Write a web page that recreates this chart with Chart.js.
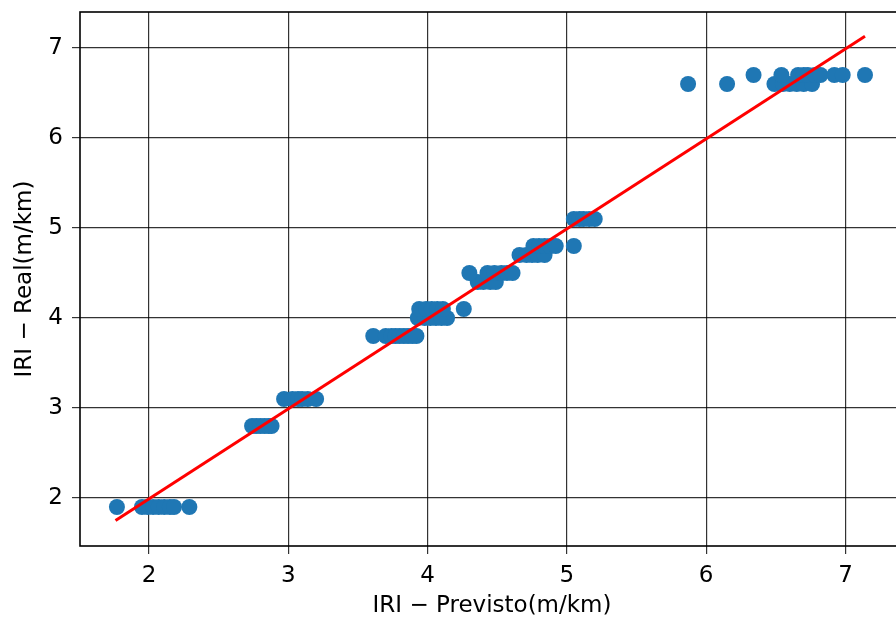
<!DOCTYPE html>
<html>
<head>
<meta charset="utf-8">
<script src="https://cdn.jsdelivr.net/npm/chart.js@4.4.1/dist/chart.umd.min.js"></script>
<style>
  html, body { margin: 0; padding: 0; background: #fff; overflow: hidden; }
  #wrap { width: 896px; height: 619px; overflow: hidden; }
  #grafico { display: block; }
</style>
</head>
<body>
<div id="wrap"><canvas id="grafico" width="912" height="619"></canvas></div>
<script>
// valores, agrupados por nivel de IRI real
const real19 = [1.77, 1.95, 1.99, 2.03, 2.07, 2.11, 2.15, 2.18, 2.29];
const real28 = [2.74, 2.77, 2.80, 2.83, 2.86, 2.88];
const real31 = [2.97, 3.03, 3.07, 3.10, 3.14, 3.20];
const real38 = [3.61, 3.70, 3.74, 3.77, 3.80, 3.83, 3.86, 3.89, 3.92];
const real40 = [3.93, 3.98, 4.02, 4.06, 4.10, 4.14];
const real41 = [3.94, 3.99, 4.03, 4.07, 4.11, 4.26];
const real44 = [4.36, 4.40, 4.45, 4.49];
const real45 = [4.30, 4.43, 4.48, 4.53, 4.57, 4.61];
const real47 = [4.66, 4.71, 4.75, 4.79, 4.84];
const real48 = [4.76, 4.80, 4.84, 4.88, 4.92, 5.05];
const real51 = [5.05, 5.09, 5.12, 5.16, 5.20];
const real66 = [5.87, 6.15, 6.49, 6.55, 6.60, 6.65, 6.70, 6.76];
const real67 = [6.34, 6.54, 6.66, 6.70, 6.73, 6.78, 6.82, 6.92, 6.98, 7.14];

const niveles = [1.9, 2.8, 3.1, 3.8, 4.0, 4.1, 4.4, 4.5, 4.7, 4.8, 5.1, 6.6, 6.7];
const previstos = [real19, real28, real31, real38, real40, real41, real44, real45, real47, real48, real51, real66, real67];

// recta de ajuste
const rectaX = [1.76, 7.14];
const rectaY = [1.75, 7.13];

const ticksX = [2, 3, 4, 5, 6, 7];
const ticksY = [2, 3, 4, 5, 6, 7];

const puntos = [];
previstos.forEach((lista, i) => {
    lista.forEach(x => puntos.push({ x: x, y: niveles[i] }));
});
const recta = rectaX.map((x, i) => ({ x: x, y: rectaY[i] }));

const fuente = { family: 'DejaVu Sans', size: 23 };
const fuenteTitulo = { family: 'DejaVu Sans', size: 23, lineHeight: 1.0 };

// marco completo alrededor del area del grafico
const marco = {
    id: 'marco',
    afterDraw(chart) {
        const a = chart.chartArea;
        const ctx = chart.ctx;
        ctx.save();
        ctx.strokeStyle = '#000';
        ctx.lineWidth = 1.6;
        ctx.strokeRect(a.left, a.top, a.right - a.left, a.bottom - a.top);
        ctx.restore();
    }
};

new Chart(document.getElementById('grafico').getContext('2d'), {
    type: 'scatter',
    data: {
        datasets: [
            {
                type: 'line',
                data: recta,
                borderColor: '#ff0000',
                borderWidth: 3,
                pointRadius: 0,
                fill: false,
                order: 0
            },
            {
                data: puntos,
                backgroundColor: '#1f77b4',
                borderColor: '#1f77b4',
                borderWidth: 0,
                pointRadius: 8,
                order: 1
            }
        ]
    },
    options: {
        responsive: false,
        animation: false,
        layout: { padding: { top: 12, right: 7, left: 0, bottom: 0 } },
        plugins: { legend: { display: false }, tooltip: { enabled: false } },
        scales: {
            x: {
                type: 'linear',
                min: 1.505,
                max: 7.42,
                afterBuildTicks: s => { s.ticks = ticksX.map(v => ({ value: v })); },
                afterFit: s => { s.height = 73; s.paddingLeft = 0; s.paddingRight = 0; },
                grid: { color: 'rgba(0,0,0,0.8)', lineWidth: 1.2, tickLength: 8 },
                border: { display: false },
                ticks: { color: '#000', font: fuente, padding: 8, maxRotation: 0 },
                title: { display: true, text: 'IRI − Previsto(m/km)', color: '#000', font: fuenteTitulo, padding: { top: 0, bottom: 1 } }
            },
            y: {
                type: 'linear',
                min: 1.467,
                max: 7.4,
                afterBuildTicks: s => { s.ticks = ticksY.map(v => ({ value: v })); },
                afterFit: s => { s.width = 80; s.paddingTop = 0; s.paddingBottom = 0; },
                grid: { color: 'rgba(0,0,0,0.8)', lineWidth: 1.2, tickLength: 8 },
                border: { display: false },
                ticks: { color: '#000', font: fuente, padding: 9 },
                title: { display: true, text: 'IRI − Real(m/km)', color: '#000', font: fuente, padding: { top: 11, bottom: 0 } }
            }
        }
    },
    plugins: [marco]
});
</script>
</body>
</html>
